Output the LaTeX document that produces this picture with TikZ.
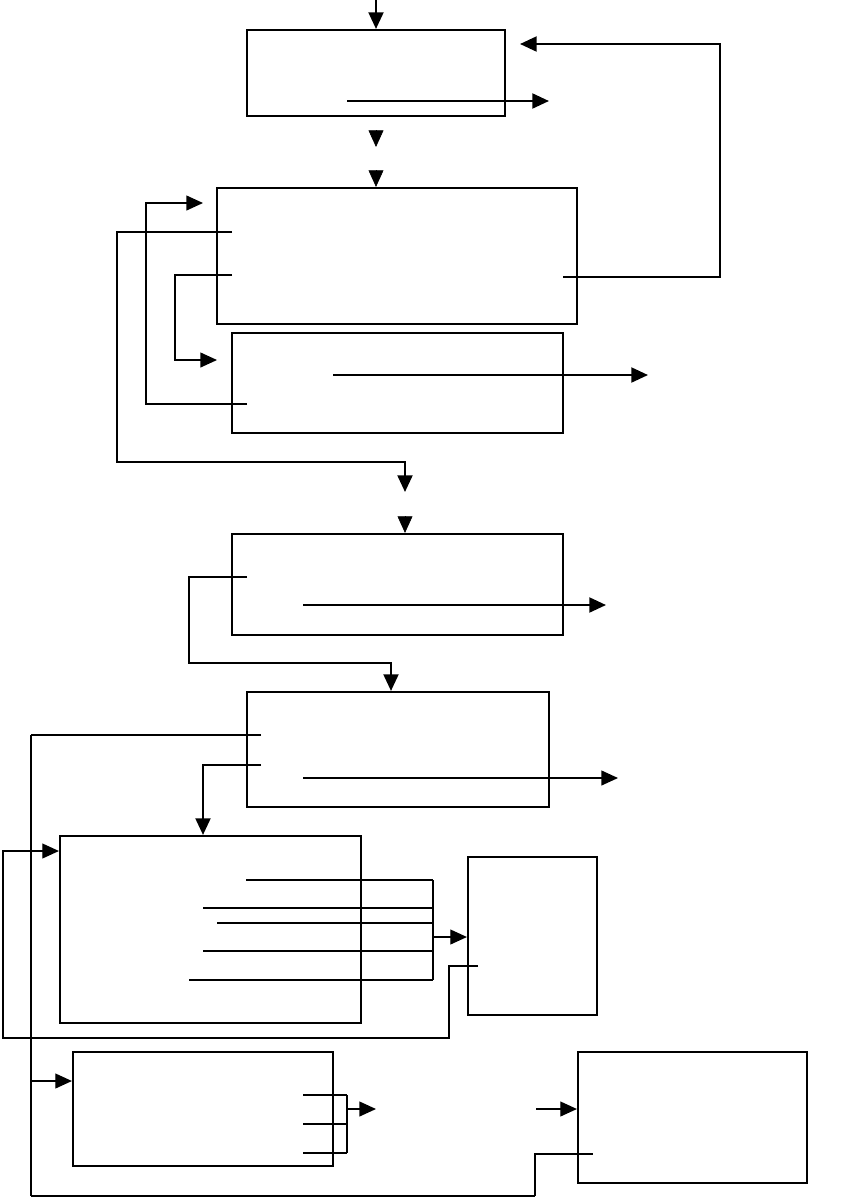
\documentclass[tikz,border=0pt]{standalone}
\usetikzlibrary{arrows.meta,positioning,fit}
\begin{document}
\begin{tikzpicture}[x=0.02cm,y=-0.02cm,
		box/.style={draw,line width=1.2pt,inner sep=0pt},
		thk/.style={line width=1.3pt},
		thn/.style={line width=0.8pt},
		arr/.style={-{Triangle[length=9.5pt,width=8.5pt]}}]
		\useasboundingbox (0,0) rectangle (852,1198);
		
		% boxes
		\node[box,fit={(247,30) (505,116)}] (top) {};
		\node[box,fit={(217,188) (577,324)}] (mid) {};
		\node[box,fit={(232,333) (563,433)}] (sub) {};
		\node[box,fit={(232,534) (563,635)}] (third) {};
		\node[box,fit={(247,692) (549,807)}] (fourth) {};
		\node[box,fit={(60,836) (361,1023)}] (big) {};
		\node[box,fit={(468,857) (597,1015)}] (tall) {};
		\node[box,fit={(73,1052) (333,1166)}] (low) {};
		\node[box,fit={(578,1052) (807,1183)}] (last) {};
		
		% free ends
		\coordinate (in) at (376,0);
		\coordinate (topout) at (549,101);
		\coordinate (subout) at (648,375);
		\coordinate (thirdout) at (606,605);
		\coordinate (fourthout) at (618,778);
		
		% top box
		\draw[thk,arr] (in) -- (376,0 |- top.north);
		\draw[thk,arr] (347,101) -- (topout);
		\draw[arr] (376,131) -- (376,147);
		\draw[arr] (376,172) -- (376,0 |- mid.north);
		\draw[thk,arr] (563,277) -- (720,277) -- (720,44) -- (520,44);
		
		% middle box and sub box
		\draw[thk,arr] (232,232) -- (117,232) -- (117,462) -- (405,462) -- (405,492);
		\draw[thn,arr] (232,275) -- (175,275) -- (175,360) -- (217,360);
		\draw[thn,arr] (247,404) -- (146,404) -- (146,203) -- (203,203);
		\draw[thk,arr] (333,375) -- (subout);
		\draw[arr] (405,518) -- (405,0 |- third.north);
		
		% third box
		\draw[thk,arr] (303,605) -- (thirdout);
		\draw[thk,arr] (247,577) -- (189,577) -- (189,663) -- (391,663) -- (391,0 |- fourth.north);
		
		% fourth box
		\draw[thk] (261,735) -- (31,735);
		\draw[thn] (31,735) -- (31,1196);
		\draw[thk] (31,1196) -- (535,1196);
		\draw[thn] (535,1196) -- (535,1154) -- (593,1154);
		\draw[thn,arr] (31,1081) -- (low.west |- 0,1081);
		\draw[thk,arr] (261,765) -- (203,765) -- (203,0 |- big.north);
		\draw[thn,arr] (303,778) -- (fourthout);
		
		% big box to tall box
		\draw[thn,arr] (478,966) -- (449,966) -- (449,1038) -- (3,1038) -- (3,851) -- (big.west |- 0,851);
		\draw[thk] (246,880) -- (433,880);
		\draw[thk] (203,908) -- (433,908);
		\draw[thn] (217,923) -- (433,923);
		\draw[thk] (203,951) -- (433,951);
		\draw[thk] (189,980) -- (433,980);
		\draw[thn] (433,880) -- (433,980);
		\draw[thn,arr] (433,937) -- (tall.west |- 0,937);
		
		% low box
		\draw[thk] (303,1095) -- (347,1095);
		\draw[thk] (303,1124) -- (347,1124);
		\draw[thn] (303,1153) -- (347,1153);
		\draw[thn] (347,1095) -- (347,1153);
		\draw[thn,arr] (347,1109) -- (376,1109);
		\draw[thn,arr] (536,1109) -- (last.west |- 0,1109);
\end{tikzpicture}
\end{document}
